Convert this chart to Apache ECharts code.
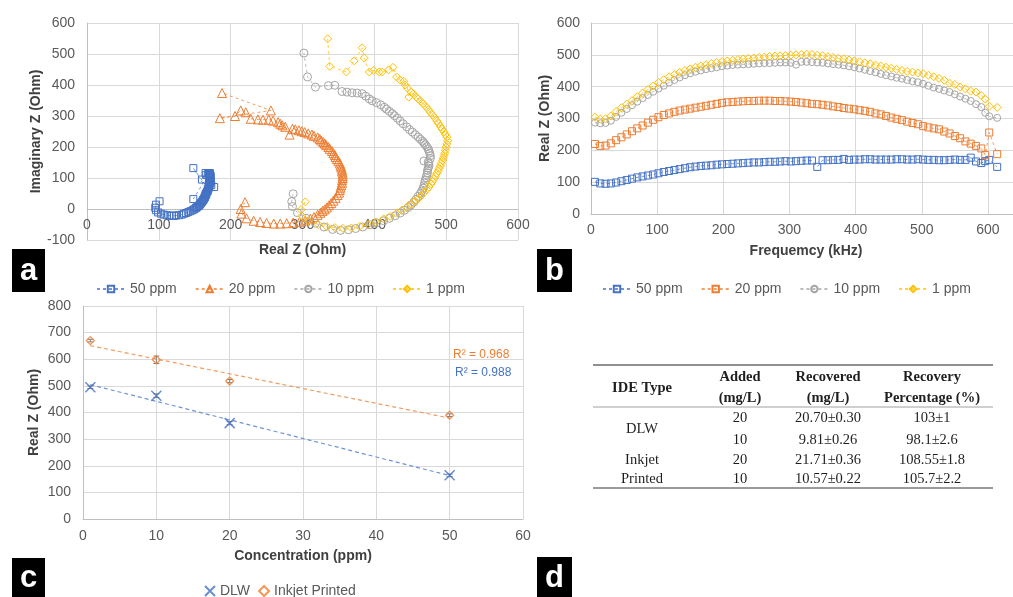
<!DOCTYPE html>
<html>
<head>
<meta charset="utf-8">
<script src="https://cdn.jsdelivr.net/npm/echarts@6.0.0/dist/echarts.min.js"></script>
<style>
  html, body { margin: 0; padding: 0; background: #fff; }
  #chart { width: 1013px; height: 597px; }
</style>
</head>
<body>
<div id="chart"></div>
<script>
// measurement frequencies (kHz), shared by panels a and b
const freqKHz = [6,14,22,30,38,46,54,62,70,78,86,94,102,110,118,126,134,142,150,158,166,174,182,190,198,206,214,222,230,238,246,254,262,270,278,286,294,302,310,318,326,334,342,350,358,366,374,382,390,398,406,414,422,430,438,446,454,462,470,478,486,494,502,510,518,526,534,542,550,558,566,574,582,590,596,602,614];

// real Z (Ohm) per concentration
const realZ50 = [101,96,95,96,99,103,107,111,115,118,121,124,128,132,135,138,141,144,147,149,151,152,153,155,156,157,158,159,160,161,162,162,163,164,164,165,166,165,166,167,168,168,148,169,169,170,170,173,170,171,171,172,172,171,171,171,171,172,172,171,171,172,171,170,170,169,169,170,171,170,170,177,165,160,166,170,148];
const realZ20 = [220,214,215,222,232,241,250,260,269,278,287,296,304,311,316,321,325,328,331,334,337,340,343,346,349,351,352,353,354,355,355,356,356,356,355,355,354,353,352,350,348,346,345,343,341,338,336,333,331,329,326,324,321,316,313,308,303,299,295,290,286,282,276,272,269,266,259,253,245,238,228,221,214,206,185,256,188];
const realZ10 = [287,285,286,293,305,318,330,342,353,364,374,384,394,403,413,421,429,436,442,447,451,455,458,461,464,466,468,469,470,471,472,473,474,474,475,476,476,475,469,478,478,477,476,475,473,471,469,467,464,461,457,453,449,445,440,436,432,428,425,421,417,414,409,403,397,393,388,383,376,369,362,355,345,336,318,307,302];
const realZ1 = [304,298,299,308,322,334,345,356,368,380,391,402,413,422,431,438,445,451,456,461,465,469,473,476,479,481,483,485,487,489,490,492,493,495,496,497,498,499,500,501,502,501,499,497,494,492,489,487,484,481,478,475,472,468,465,461,458,454,451,448,446,443,441,436,431,426,420,411,407,399,393,386,383,372,361,338,335];

// imaginary Z (Ohm) per concentration
const imagZ50 = [25,14,4,-4,-11,-15,-18,-20,-21,-22,-22,-21,-20,-18,-15,-13,-10,-7,-4,-1,2,4,6,9,11,14,17,20,23,26,29,31,34,37,40,43,46,48,51,55,58,61,132,65,68,71,74,77,79,81,84,87,90,92,95,97,99,101,103,105,107,108,110,111,112,113,114,115,116,116,115,71,116,95,110,115,32];
const imagZ20 = [22,0,-15,-30,-38,-42,-45,-47,-47,-46,-44,-41,-37,-31,-26,-19,-12,-6,-1,5,12,19,27,36,45,53,61,69,77,85,93,100,107,114,121,127,134,140,147,154,161,168,174,180,187,194,200,206,211,216,221,226,231,236,240,244,248,251,254,257,259,240,265,270,275,280,285,288,288,289,291,312,318,300,293,318,374];
const imagZ10 = [49,24,8,-12,-30,-46,-58,-66,-69,-67,-63,-58,-51,-45,-38,-30,-22,-13,-4,5,13,22,31,41,50,58,67,75,84,93,101,109,117,125,132,139,146,152,155,163,172,180,187,194,201,207,213,219,225,232,240,248,256,265,275,284,293,301,308,315,322,328,336,343,349,355,364,372,374,375,377,379,399,398,393,426,503];
const imagZ1 = [23,-2,-22,-38,-50,-57,-60,-62,-61,-56,-50,-42,-32,-24,-14,-5,5,15,24,33,42,52,62,71,81,89,98,106,115,123,131,139,147,156,164,172,180,190,200,210,220,232,240,249,258,266,276,284,294,303,312,321,330,339,347,355,362,372,378,361,390,400,412,416,426,457,449,442,442,447,442,487,520,478,442,460,549];

const seriesNames = ['50 ppm', '20 ppm', '10 ppm', '1 ppm'];

// panel c
const concPpm = [1, 10, 20, 50];
const dlwZ = [495, 463, 360, 164];
const dlwErr = [5, 7, 6, 5];
const inkjetZ = [670, 598, 518, 390];
const inkjetErr = [5, 14, 6, 5];

// panel d table
const tableHead = [['IDE Type'], ['Added', '(mg/L)'], ['Recovered', '(mg/L)'], ['Recovery', 'Percentage (%)']];
const ideType = ['DLW', 'Inkjet', 'Printed'];
const addedMgL = ['20', '10', '20', '10'];
const recoveredMgL = ['20.70±0.30', '9.81±0.26', '21.71±0.36', '10.57±0.22'];
const recoveryPct = ['103±1', '98.1±2.6', '108.55±1.8', '105.7±2.2'];

const FONT = '"Liberation Sans", Arial, sans-serif';
const SERIF = '"Liberation Serif", "Times New Roman", serif';
const colors = ['#4472C4', '#ED7D31', '#A5A5A5', '#FFC000'];
const realZ = [realZ50, realZ20, realZ10, realZ1];
const imagZ = [imagZ50, imagZ20, imagZ10, imagZ1];
const symA = ['rect', 'triangle', 'circle', 'diamond'];
const symB = ['rect', 'rect', 'circle', 'diamond'];
const sizeA = [7, 9, 8, 8];
const sizeB = [7, 7, 7, 8];

function valueAxis(gridIndex, min, max, interval, name, nameGap, labelMargin) {
  return {
    type: 'value',
    gridIndex: gridIndex,
    min: min,
    max: max,
    interval: interval,
    name: name,
    nameLocation: 'middle',
    nameGap: nameGap,
    nameTextStyle: { fontFamily: FONT, fontSize: 14, fontWeight: 'bold', color: '#404040' },
    axisLine: { show: true, onZero: false, lineStyle: { color: '#BFBFBF', width: 1 } },
    axisTick: { show: false },
    axisLabel: {
      fontFamily: FONT, fontSize: 14, color: '#595959', margin: labelMargin,
      formatter: function (v) { return v % interval === 0 ? String(v) : ''; }
    },
    splitLine: { show: true, lineStyle: { color: '#D9D9D9', width: 1 } },
  };
}

function linearFit(xs, ys) {
  let n = xs.length, mx = 0, my = 0;
  for (let i = 0; i < n; i++) { mx += xs[i] / n; my += ys[i] / n; }
  let sxy = 0, sxx = 0;
  for (let i = 0; i < n; i++) { sxy += (xs[i] - mx) * (ys[i] - my); sxx += (xs[i] - mx) * (xs[i] - mx); }
  let b = sxy / sxx, a = my - b * mx;
  return [[xs[0], a + b * xs[0]], [xs[n - 1], a + b * xs[n - 1]]];
}

function errorBars(ys, errs) {
  return {
    type: 'custom',
    xAxisIndex: 2,
    yAxisIndex: 2,
    data: concPpm.map((x, i) => [x, ys[i], errs[i]]),
    encode: { x: 0, y: 1 },
    z: 1,
    renderItem: function (params, api) {
      let x = api.value(0), y = api.value(1), e = api.value(2);
      let top = api.coord([x, y + e]), bot = api.coord([x, y - e]);
      let st = { stroke: '#808080', lineWidth: 1 };
      return {
        type: 'group',
        children: [
          { type: 'line', shape: { x1: top[0], y1: top[1], x2: bot[0], y2: bot[1] }, style: st },
          { type: 'line', shape: { x1: top[0] - 3, y1: top[1], x2: top[0] + 3, y2: top[1] }, style: st },
          { type: 'line', shape: { x1: bot[0] - 3, y1: bot[1], x2: bot[0] + 3, y2: bot[1] }, style: st },
        ],
      };
    },
  };
}

let series = [];
seriesNames.forEach((n, i) => {
  series.push({
    name: 'a:' + n,
    type: 'line',
    xAxisIndex: 0,
    yAxisIndex: 0,
    data: realZ[i].map((r, k) => [r, imagZ[i][k]]),
    symbol: symA[i],
    symbolSize: sizeA[i],
    showSymbol: true,
    itemStyle: { color: 'rgba(0,0,0,0)', borderColor: colors[i], borderWidth: 1 },
    lineStyle: { color: colors[i], width: 1, type: [3, 3], opacity: 0.75 },
  });
});
seriesNames.forEach((n, i) => {
  series.push({
    name: 'b:' + n,
    type: 'line',
    xAxisIndex: 1,
    yAxisIndex: 1,
    data: freqKHz.map((f, k) => [f, realZ[i][k]]),
    symbol: symB[i],
    symbolSize: sizeB[i],
    showSymbol: true,
    itemStyle: { color: 'rgba(0,0,0,0)', borderColor: colors[i], borderWidth: 1 },
    lineStyle: { color: colors[i], width: 1, type: [3, 3], opacity: 0.75 },
  });
});

// panel c: trend lines, error bars, points
series.push({
  name: 'DLW fit', type: 'line', xAxisIndex: 2, yAxisIndex: 2,
  data: linearFit(concPpm, dlwZ), symbol: 'none',
  lineStyle: { color: '#6F93D6', width: 1.2, type: [4, 3] },
});
series.push({
  name: 'Inkjet fit', type: 'line', xAxisIndex: 2, yAxisIndex: 2,
  data: linearFit(concPpm, inkjetZ), symbol: 'none',
  lineStyle: { color: '#F19B5E', width: 1.2, type: [4, 3] },
});
series.push(errorBars(dlwZ, dlwErr));
series.push(errorBars(inkjetZ, inkjetErr));
series.push({
  name: 'c:DLW', type: 'scatter', xAxisIndex: 2, yAxisIndex: 2,
  data: concPpm.map((x, i) => [x, dlwZ[i]]),
  symbol: 'path://M0,0L10,10M10,0L0,10', symbolSize: 10,
  itemStyle: { color: 'rgba(0,0,0,0)', borderColor: '#4472C4', borderWidth: 1.5 },
  z: 3,
});
series.push({
  name: 'c:Inkjet Printed', type: 'scatter', xAxisIndex: 2, yAxisIndex: 2,
  data: concPpm.map((x, i) => [x, inkjetZ[i]]),
  symbol: 'diamond', symbolSize: 8,
  itemStyle: { color: 'rgba(0,0,0,0)', borderColor: '#ED7D31', borderWidth: 1.3 },
  z: 3,
});

// graphic: panel labels, R² texts, table
let graphic = [];
[['a', 12, 249, 33, 43], ['b', 537, 249, 35, 43], ['c', 12, 558, 33, 39], ['d', 537, 557, 35, 40]].forEach(p => {
  graphic.push({ type: 'rect', shape: { x: p[1], y: p[2], width: p[3], height: p[4] }, style: { fill: '#000' } });
  graphic.push({
    type: 'text', x: p[1] + p[3] / 2, y: p[2] + p[4] / 2 + 1,
    style: { text: p[0], fill: '#fff', fontFamily: FONT, fontSize: 31, fontWeight: 'bold', align: 'center', verticalAlign: 'middle' },
  });
});
graphic.push({ type: 'text', x: 453, y: 355, style: { text: 'R² = 0.968', fill: '#ED7D31', fontFamily: FONT, fontSize: 12, align: 'left', verticalAlign: 'middle' } });
graphic.push({ type: 'text', x: 455, y: 373, style: { text: 'R² = 0.988', fill: '#4472C4', fontFamily: FONT, fontSize: 12, align: 'left', verticalAlign: 'middle' } });

function cell(x, y, t, bold) {
  return {
    type: 'text', x: x, y: y,
    style: { text: t, fill: '#1e1e1e', fontFamily: SERIF, fontSize: 14.5, fontWeight: bold ? 'bold' : 'normal', align: 'center', verticalAlign: 'middle' },
  };
}
const colX = [642, 740, 828, 932];
const rowY = [418, 440, 460, 479];
graphic.push({ type: 'line', shape: { x1: 593, y1: 365, x2: 993, y2: 365 }, style: { stroke: '#6b6b6b', lineWidth: 1.5 } });
graphic.push({ type: 'line', shape: { x1: 593, y1: 407, x2: 993, y2: 407 }, style: { stroke: '#a0a0a0', lineWidth: 1 } });
graphic.push({ type: 'line', shape: { x1: 593, y1: 488, x2: 993, y2: 488 }, style: { stroke: '#7a7a7a', lineWidth: 1.5 } });
tableHead.forEach((lines, c) => {
  lines.forEach((t, k) => graphic.push(cell(colX[c], lines.length === 1 ? 388 : 377 + k * 21, t, true)));
});
graphic.push(cell(colX[0], (rowY[0] + rowY[1]) / 2, ideType[0], false));
graphic.push(cell(colX[0], rowY[2], ideType[1], false));
graphic.push(cell(colX[0], rowY[3], ideType[2], false));
rowY.forEach((y, r) => {
  graphic.push(cell(colX[1], y, addedMgL[r], false));
  graphic.push(cell(colX[2], y, recoveredMgL[r], false));
  graphic.push(cell(colX[3], y, recoveryPct[r], false));
});

function legendBox(left, top, names, w, h, gap) {
  return {
    left: left, top: top, orient: 'horizontal',
    data: names, itemWidth: w, itemHeight: h, itemGap: gap,
    selectedMode: false,
    formatter: function (n) { return n.slice(2); },
    textStyle: { fontFamily: FONT, fontSize: 14, color: '#595959' },
  };
}

// panel a: x axis sits on the zero line, 31 px above the -100 border
let xAxisA = valueAxis(0, 0, 600, 100, 'Real Z (Ohm)', 34, 9);
xAxisA.offset = -31;

let chart = echarts.init(document.getElementById('chart'));
chart.setOption({
  animation: false,
  backgroundColor: '#fff',
  grid: [
    { left: 87, top: 23, width: 431, height: 217, outerBoundsMode: 'none' },
    { left: 591, top: 23, width: 430, height: 191, outerBoundsMode: 'none' },
    { left: 83, top: 306, width: 440, height: 213, outerBoundsMode: 'none' },
  ],
  xAxis: [
    xAxisA,
    valueAxis(1, 0, 650, 100, 'Frequemcy (kHz)', 30, 9),
    valueAxis(2, 0, 60, 10, 'Concentration (ppm)', 30, 10),
  ],
  yAxis: [
    valueAxis(0, -100, 600, 100, 'Imaginary Z (Ohm)', 44, 12),
    valueAxis(1, 0, 600, 100, 'Real Z (Ohm)', 39, 11),
    valueAxis(2, 0, 800, 100, 'Real Z (Ohm)', 42, 12),
  ],
  legend: [
    legendBox(91, 277, seriesNames.map(n => 'a:' + n), 28, 8, 18),
    legendBox(597, 277, seriesNames.map(n => 'b:' + n), 28, 8, 18),
    legendBox(199, 579, ['c:DLW', 'c:Inkjet Printed'], 10, 10, 8),
  ],
  graphic: graphic,
  series: series,
});
</script>
</body>
</html>
